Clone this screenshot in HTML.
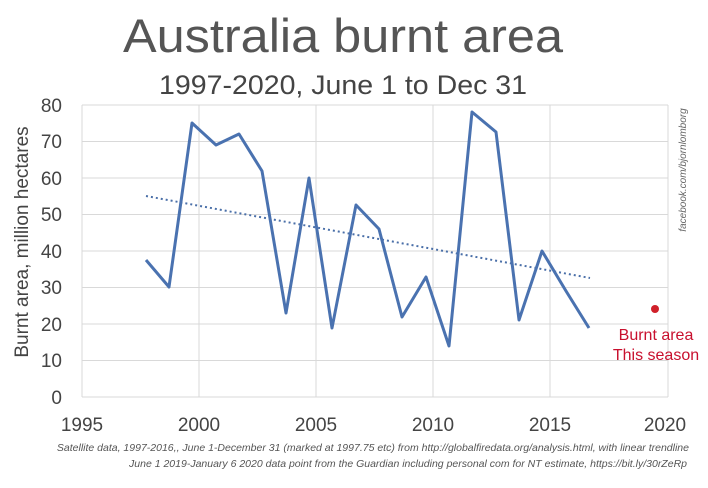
<!DOCTYPE html>
<html><head><meta charset="utf-8"><style>
body{margin:0;background:#fff;}
svg{display:block;font-family:"Liberation Sans",sans-serif;}
</style></head><body>
<svg width="708" height="488" viewBox="0 0 708 488">
<text x="343" y="52" font-size="47" fill="#555" text-anchor="middle" textLength="440" lengthAdjust="spacingAndGlyphs">Australia burnt area</text>
<text x="343" y="94" font-size="27" fill="#444" text-anchor="middle" textLength="368" lengthAdjust="spacingAndGlyphs">1997-2020, June 1 to Dec 31</text>
<g stroke="#d9d9d9" stroke-width="1">
<line x1="82" y1="105" x2="668" y2="105"/><line x1="82" y1="141.5" x2="668" y2="141.5"/>
<line x1="82" y1="178" x2="668" y2="178"/><line x1="82" y1="214.5" x2="668" y2="214.5"/>
<line x1="82" y1="251" x2="668" y2="251"/><line x1="82" y1="287.5" x2="668" y2="287.5"/>
<line x1="82" y1="324" x2="668" y2="324"/><line x1="82" y1="360.5" x2="668" y2="360.5"/>
<line x1="82" y1="397" x2="668" y2="397"/>
<line x1="82" y1="105" x2="82" y2="397"/><line x1="199" y1="105" x2="199" y2="397"/>
<line x1="316" y1="105" x2="316" y2="397"/><line x1="433" y1="105" x2="433" y2="397"/>
<line x1="550" y1="105" x2="550" y2="397"/><line x1="668" y1="105" x2="668" y2="397"/>
</g>
<g font-size="19" fill="#444" text-anchor="end">
<text x="62" y="112">80</text><text x="62" y="148">70</text><text x="62" y="185">60</text>
<text x="62" y="221">50</text><text x="62" y="258">40</text><text x="62" y="294">30</text>
<text x="62" y="331">20</text><text x="62" y="367">10</text><text x="62" y="404">0</text>
</g>
<g font-size="19" fill="#444" text-anchor="middle">
<text x="82" y="431">1995</text><text x="199" y="431">2000</text><text x="316" y="431">2005</text>
<text x="433" y="431">2010</text><text x="550" y="431">2015</text><text x="665" y="431">2020</text>
</g>
<text transform="translate(28,242) rotate(-90)" font-size="19" fill="#444" text-anchor="middle">Burnt area, million hectares</text>
<text transform="translate(686,170) rotate(-90)" font-size="10" font-style="italic" fill="#666" text-anchor="middle">facebook.com/bjornlomborg</text>
<line x1="146" y1="196" x2="590" y2="278" stroke="#4a6fa8" stroke-width="2" stroke-dasharray="2,3"/>
<polyline fill="none" stroke="#4a72b0" stroke-width="3" stroke-linejoin="round" points="146,260 169,287 192,123 216,145 239,134 262,171 286,313 309,178 332,328 356,205 379,229 402,317 426,277 449,346 472,112 496,132 519,320 542,251 566,291 589,328"/>
<circle cx="655" cy="309" r="4" fill="#d0202a"/>
<text x="656" y="340" font-size="16" fill="#c8102e" text-anchor="middle">Burnt area</text>
<text x="656" y="360" font-size="16" fill="#c8102e" text-anchor="middle">This season</text>
<text x="689" y="451" font-size="10.5" font-style="italic" fill="#555" text-anchor="end">Satellite data, 1997-2016,, June 1-December 31 (marked at 1997.75 etc) from http://globalfiredata.org/analysis.html, with linear trendline</text>
<text x="687" y="467" font-size="10.5" font-style="italic" fill="#555" text-anchor="end">June 1 2019-January 6 2020 data point from the Guardian including personal com for NT estimate, https://bit.ly/30rZeRp</text>
</svg>
</body></html>
